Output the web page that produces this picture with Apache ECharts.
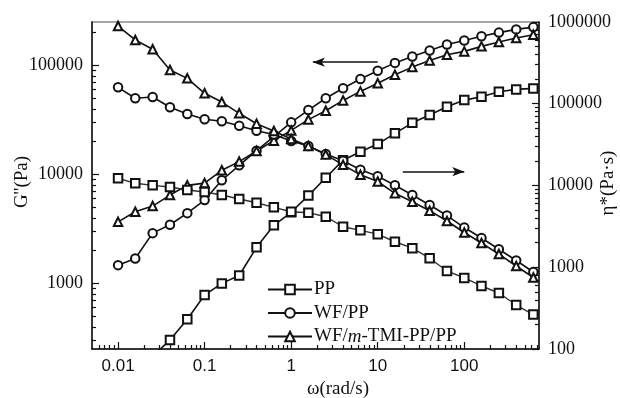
<!DOCTYPE html>
<html>
<head>
<meta charset="utf-8">
<script src="https://cdn.jsdelivr.net/npm/echarts@6/dist/echarts.min.js"></script>
<style>
html,body{margin:0;padding:0;background:#fff;}
#c{width:620px;height:398px;}
</style>
</head>
<body>
<div id="c"></div>
<script>
// Angular frequency (rad/s)
const freq = [0.01, 0.0158, 0.0251, 0.0398, 0.0631, 0.1, 0.158, 0.251, 0.398, 0.631, 1, 1.58, 2.51, 3.98, 6.31, 10, 15.8, 25.1, 39.8, 63.1, 100, 158, 251, 398, 628];
// Loss modulus G'' (Pa) - left axis
const gPP   = [null, null, 215, 302, 468, 781, 1000, 1180, 2140, 3410, 4490, 6390, 9300, 13500, 16100, 18970, 23800, 29700, 35000, 41700, 48000, 51500, 57200, 60200, 61500];
const gWF   = [1470, 1690, 2890, 3450, 4410, 5810, 8830, 12100, 16500, 22200, 30000, 38900, 49900, 61700, 75100, 89200, 105400, 120400, 136700, 155200, 168900, 185000, 199800, 213900, 224500];
const gTMI  = [3670, 4540, 5120, 6460, 7930, 8320, 10900, 13100, 16400, 20400, 25300, 31800, 38300, 47700, 57700, 68500, 82000, 96400, 110700, 125100, 134400, 149400, 163700, 178000, 190900];
// Complex viscosity eta* (Pa.s) - right axis
const etaPP  = [12250, 10640, 10050, 9580, 8810, 8320, 7650, 6840, 6160, 5410, 4780, 4650, 4150, 3130, 2830, 2540, 2050, 1710, 1290, 900, 740, 590, 484, 345, 264];
const etaWF  = [158900, 116700, 121100, 90600, 75000, 64600, 61000, 53900, 46700, 42100, 35000, 30400, 24300, 20100, 15600, 12970, 10050, 7650, 5770, 4290, 3060, 2280, 1660, 1210, 875];
const etaTMI = [893000, 602600, 463400, 258700, 204500, 134300, 104900, 76400, 57000, 46400, 37000, 30400, 23900, 17900, 13500, 11200, 8030, 6340, 4920, 3680, 2660, 1980, 1450, 1035, 750];

const seriesNames = ['PP', 'WF/PP', 'WF/m-TMI-PP/PP'];
const xTitle = 'ω(rad/s)';
const yLeftTitle = "G''(Pa)";
const yRightTitle = 'η*(Pa·s)';
const xTicks = [0.01, 0.1, 1, 10, 100];
const yLeftTicks = [1000, 10000, 100000];
const yRightTicks = [100, 1000, 10000, 100000, 1000000];

const xMin = 0.005, xMax = 730;
const yLMin = 250, yLMax = 250000;
const yRMin = 100, yRMax = 1000000;

function minorTicks(lo, hi) {
  const out = [];
  for (let e = -4; e <= 7; e++) {
    for (let k = 2; k <= 9; k++) {
      const v = +(k * Math.pow(10, e)).toPrecision(3);
      if (v > lo && v < hi) out.push(v);
    }
  }
  return out;
}

const SERIF = 'Liberation Serif';
const SANS = 'Liberation Sans';
const INK = '#111';

function pairs(arr) { return freq.map((f, i) => [f, arr[i] == null ? '-' : arr[i]]); }

function lineSeries(name, arr, yIdx, symbol, extra) {
  return Object.assign({
    name: name,
    type: 'line',
    xAxisIndex: 0,
    yAxisIndex: yIdx,
    data: pairs(arr),
    symbol: symbol,
    symbolSize: 8.5,
    showAllSymbol: true,
    lineStyle: { color: INK, width: 1.6 },
    itemStyle: { color: INK, borderWidth: 1 },
    emphasis: { disabled: true },
    z: 3
  }, extra || {});
}

const arrowStyle = {
  silent: true,
  symbol: ['none', 'arrow'],
  symbolSize: [7, 12],
  label: { show: false },
  lineStyle: { color: INK, width: 1.5, type: 'solid' },
  emphasis: { disabled: true }
};

const gridBox = { left: 92, right: 81, top: 22, bottom: 49, outerBoundsMode: 'none', containLabel: false };

function titleText(text, x, y, rot) {
  return {
    type: 'text', x: x, y: y, rotation: rot, silent: true,
    style: { text: text, fontFamily: SERIF, fontSize: 19, fill: INK, align: 'center', verticalAlign: 'middle' }
  };
}

const option = {
  animation: false,
  backgroundColor: '#fff',
  grid: [
    Object.assign({ show: true, borderColor: '#8a8a8a', borderWidth: 1.5, backgroundColor: 'transparent' }, gridBox),
    Object.assign({ show: false }, gridBox)
  ],
  graphic: [
    titleText(xTitle, 338, 389, 0),
    titleText(yLeftTitle, 22, 182, Math.PI / 2),
    titleText(yRightTitle, 608, 183, Math.PI / 2)
  ],
  legend: {
    data: seriesNames,
    orient: 'vertical',
    left: 262,
    top: 275,
    itemWidth: 44,
    itemHeight: 12,
    itemGap: 4.5,
    selectedMode: false,
    formatter: function (n) { return n === 'WF/m-TMI-PP/PP' ? 'WF/{i|m}-TMI-PP/PP' : n; },
    textStyle: {
      fontFamily: SERIF, fontSize: 19, color: INK, lineHeight: 18, padding: [0, 0, 0, -3],
      rich: { i: { fontFamily: SERIF, fontSize: 19, fontStyle: 'italic', color: INK, lineHeight: 18 } }
    }
  },
  xAxis: [
    {
      type: 'log', gridIndex: 0, logBase: 10, min: xMin, max: xMax, position: 'bottom',
      axisLine: { show: true, lineStyle: { color: INK, width: 1.5 } },
      axisTick: { show: true, inside: true, length: 7, customValues: xTicks, lineStyle: { color: INK, width: 1.2 } },
      axisLabel: { show: true, customValues: xTicks, margin: 9, fontFamily: SANS, fontSize: 17, color: INK,
        formatter: function (v) { return String(v); } },
      splitLine: { show: false }, minorTick: { show: false }
    },
    {
      type: 'log', gridIndex: 1, logBase: 10, min: xMin, max: xMax, position: 'bottom',
      axisLine: { show: false },
      axisTick: { show: true, inside: true, length: 4, customValues: minorTicks(xMin, xMax), lineStyle: { color: INK, width: 1.2 } },
      axisLabel: { show: false }, splitLine: { show: false }
    }
  ],
  yAxis: [
    {
      type: 'log', gridIndex: 0, logBase: 10, min: yLMin, max: yLMax, position: 'left',
      axisLine: { show: true, lineStyle: { color: INK, width: 1.5 } },
      axisTick: { show: true, inside: true, length: 7, customValues: yLeftTicks, lineStyle: { color: INK, width: 1.2 } },
      axisLabel: { show: true, customValues: yLeftTicks, margin: 9, fontFamily: SERIF, fontSize: 18, color: INK,
        formatter: function (v) { return String(v); } },
      splitLine: { show: false }
    },
    {
      type: 'log', gridIndex: 0, logBase: 10, min: yRMin, max: yRMax, position: 'right',
      axisLine: { show: true, lineStyle: { color: INK, width: 1.5 } },
      axisTick: { show: true, inside: true, length: 7, customValues: yRightTicks, lineStyle: { color: INK, width: 1.2 } },
      axisLabel: { show: true, customValues: yRightTicks, margin: 9, fontFamily: SERIF, fontSize: 18, color: INK,
        formatter: function (v) { return String(v); } },
      splitLine: { show: false }
    },
    {
      type: 'log', gridIndex: 1, logBase: 10, min: yLMin, max: yLMax, position: 'left',
      axisLine: { show: false },
      axisTick: { show: true, inside: true, length: 4, customValues: minorTicks(yLMin, yLMax), lineStyle: { color: INK, width: 1.2 } },
      axisLabel: { show: false }, splitLine: { show: false }
    },
    {
      type: 'log', gridIndex: 1, logBase: 10, min: yRMin, max: yRMax, position: 'right',
      axisLine: { show: false },
      axisTick: { show: true, inside: true, length: 4, customValues: minorTicks(yRMin, yRMax), lineStyle: { color: INK, width: 1.2 } },
      axisLabel: { show: false }, splitLine: { show: false }
    }
  ],
  series: [
    lineSeries('PP', gPP, 0, 'emptyRect'),
    lineSeries('WF/PP', gWF, 0, 'emptyCircle', {
      markLine: Object.assign({ data: [[{ coord: [10, 107000] }, { coord: [1.78, 107000] }]] }, arrowStyle)
    }),
    lineSeries('WF/m-TMI-PP/PP', gTMI, 0, 'emptyTriangle'),
    lineSeries('PP', etaPP, 1, 'emptyRect', {
      lineStyle: { color: '#333', width: 1.4 },
      markLine: Object.assign({ data: [[{ coord: [19.5, 14760] }, { coord: [100, 14760] }]] }, arrowStyle)
    }),
    lineSeries('WF/PP', etaWF, 1, 'emptyCircle'),
    lineSeries('WF/m-TMI-PP/PP', etaTMI, 1, 'emptyTriangle')
  ]
};

const chart = echarts.init(document.getElementById('c'), null, { renderer: 'canvas' });
chart.setOption(option);
</script>
</body>
</html>
